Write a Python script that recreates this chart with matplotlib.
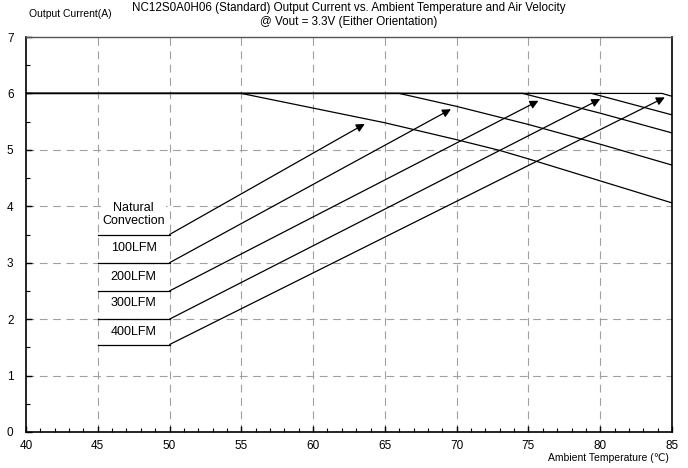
import matplotlib
matplotlib.use("Agg")
import matplotlib.pyplot as plt
from matplotlib.ticker import MultipleLocator

plt.rcParams['font.family'] = ['Liberation Sans', 'DejaVu Sans']

# derating curves (ambient temperature in C, output current in A)
nc_temp = [40, 55, 60, 65, 70, 73, 75, 80, 85]
nc_curr = [6.0, 6.0, 5.74, 5.48, 5.18, 4.99, 4.84, 4.45, 4.06]
lfm100_temp = [40, 66, 70, 75, 80, 85]
lfm100_curr = [6.0, 6.0, 5.77, 5.45, 5.10, 4.73]
lfm200_temp = [40, 74.6, 80, 85]
lfm200_curr = [6.0, 6.0, 5.65, 5.30]
lfm300_temp = [40, 79.4, 85]
lfm300_curr = [6.0, 6.0, 5.62]
lfm400_temp = [40, 84.3, 85]
lfm400_curr = [6.0, 6.0, 5.95]

curves = [(nc_temp, nc_curr), (lfm100_temp, lfm100_curr), (lfm200_temp, lfm200_curr),
          (lfm300_temp, lfm300_curr), (lfm400_temp, lfm400_curr)]

# labels with their baseline level and the point the arrow points at
labels = ['Natural\nConvection', '100LFM', '200LFM', '300LFM', '400LFM']
label_levels = [3.5, 3.0, 2.5, 2.0, 1.55]
label_text_y = [3.86, 3.26, 2.75, 2.29, 1.77]
arrow_tip_temp = [63.6, 69.6, 75.7, 80.0, 84.5]
arrow_tip_curr = [5.46, 5.72, 5.87, 5.90, 5.93]
label_x0, label_x1 = 45, 50

fig = plt.figure(figsize=(6.88, 4.68), dpi=100)
ax = fig.add_axes([26 / 688, 1 - 432 / 468, 646 / 688, 395 / 468])

ax.set_xlim(40, 85)
ax.set_ylim(0, 7)
ax.xaxis.set_major_locator(MultipleLocator(5))
ax.xaxis.set_minor_locator(MultipleLocator(1))
ax.yaxis.set_major_locator(MultipleLocator(1))
ax.yaxis.set_minor_locator(MultipleLocator(0.5))
ax.tick_params(which='both', direction='in', labelsize=8.5, color='black')
ax.tick_params(which='major', length=4, width=1)
ax.tick_params(which='minor', length=3, width=0.8)
ax.tick_params(axis='x', pad=6)
ax.tick_params(axis='y', pad=9)

for t in range(45, 85, 5):
    ax.axvline(t, color='#a0a0a0', lw=0.8, ls=(0, (7, 5)), zorder=1)
for c in range(1, 6):
    ax.axhline(c, color='#a0a0a0', lw=0.8, ls=(0, (7, 5)), zorder=1)

for s in ['left', 'bottom', 'right']:
    ax.spines[s].set_linewidth(1.2)
ax.spines['top'].set_linewidth(1.0)
ax.spines['top'].set_color('#555555')

for temp, curr in curves:
    ax.plot(temp, curr, color='black', lw=0.9, zorder=3)

for i, lab in enumerate(labels):
    lvl = label_levels[i]
    ax.plot([label_x0, label_x1], [lvl, lvl], color='black', lw=0.9, zorder=3)
    ax.annotate('', xy=(arrow_tip_temp[i], arrow_tip_curr[i]), xytext=(label_x1, lvl),
                arrowprops=dict(arrowstyle='-|>,head_length=0.5,head_width=0.25',
                                color='black', lw=0.9,
                                mutation_scale=10, shrinkA=0, shrinkB=0), zorder=4)
    ax.text((label_x0 + label_x1) / 2, label_text_y[i], lab, ha='center', va='center',
            fontsize=9, linespacing=1.15, zorder=4,
            bbox=dict(facecolor='white', edgecolor='none', pad=0.5))

fig.text(349 / 688, 1 - 8 / 468,
         'NC12S0A0H06 (Standard) Output Current vs. Ambient Temperature and Air Velocity',
         ha='center', va='center', fontsize=8.4)
fig.text(349 / 688, 1 - 22 / 468, '@ Vout = 3.3V (Either Orientation)',
         ha='center', va='center', fontsize=8.4)
fig.text(29 / 688, 1 - 14 / 468, 'Output Current(A)', ha='left', va='center', fontsize=7.5)
fig.text(669 / 688, 1 - 458 / 468, 'Ambient Temperature (\u2103)', ha='right', va='center',
         fontsize=7.5)

fig.savefig('out.png', dpi=100, facecolor='white')
